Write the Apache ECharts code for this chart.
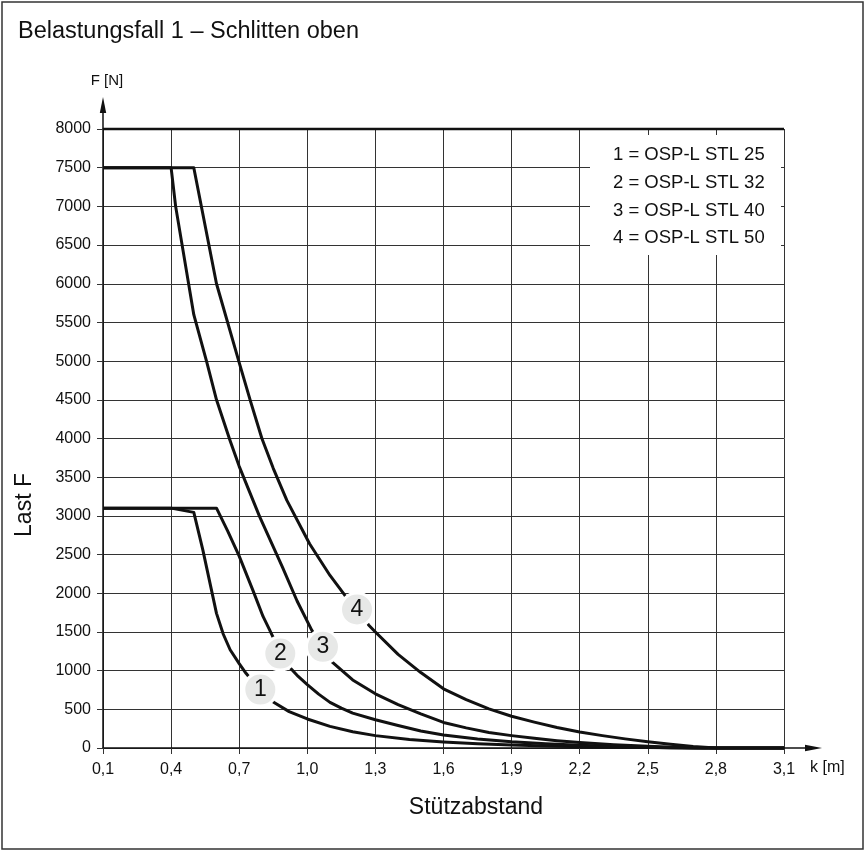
<!DOCTYPE html>
<html>
<head>
<meta charset="utf-8">
<script src="https://cdn.jsdelivr.net/npm/echarts@6/dist/echarts.min.js"></script>
<style>
html,body{margin:0;padding:0;background:#fff;}
#main{width:866px;height:855px;}
</style>
</head>
<body>
<div id="main"></div>
<script>
// ---------- data ----------
const xTickMin = 0.1, xTickMax = 3.1, xTickStep = 0.3;
const yTickMin = 0, yTickMax = 8000, yTickStep = 500;

const stl25 = [[0.1,3100],[0.4,3100],[0.5,3045],[0.54,2557],[0.6,1740],[0.63,1470],[0.66,1270],[0.7,1090],[0.73,965],[0.76,860],[0.793,755],[0.85,595],[0.92,470],[1.0,375],[1.1,280],[1.2,210],[1.3,160],[1.45,110],[1.6,78],[1.75,55],[1.9,38],[2.1,22],[2.3,12],[2.5,5],[2.7,0],[3.1,0]];
const stl32 = [[0.1,3100],[0.6,3100],[0.65,2800],[0.7,2480],[0.76,2040],[0.805,1700],[0.835,1520],[0.88,1240],[0.92,1050],[0.96,925],[1.0,820],[1.05,696],[1.1,590],[1.15,515],[1.2,450],[1.3,365],[1.4,290],[1.5,220],[1.6,168],[1.75,115],[1.9,80],[2.05,55],[2.2,35],[2.4,15],[2.6,4],[2.75,0],[3.1,0]];
const stl40 = [[0.1,7500],[0.4,7500],[0.42,7000],[0.5,5600],[0.556,5000],[0.6,4500],[0.66,3970],[0.7,3640],[0.79,2990],[0.89,2340],[0.955,1900],[1.02,1520],[1.07,1300],[1.11,1110],[1.2,880],[1.3,700],[1.4,560],[1.5,440],[1.6,330],[1.7,260],[1.8,200],[1.9,160],[2.0,125],[2.1,95],[2.2,70],[2.35,42],[2.5,22],[2.65,6],[2.75,0],[3.1,0]];
const stl50 = [[0.1,7500],[0.5,7500],[0.6,6000],[0.7,4980],[0.75,4480],[0.8,4000],[0.85,3615],[0.91,3200],[1.01,2640],[1.1,2230],[1.165,1975],[1.22,1790],[1.27,1590],[1.3,1500],[1.4,1210],[1.5,975],[1.6,765],[1.7,625],[1.8,505],[1.9,410],[2.0,335],[2.1,265],[2.2,207],[2.3,160],[2.4,118],[2.5,80],[2.6,48],[2.7,20],[2.8,0],[3.1,0]];

const curveLabels = ['1','2','3','4'];
const curveLabelPos = [[0.793,755],[0.881,1221],[1.069,1307],[1.219,1790]];
const legendTexts = ['1 = OSP-L STL 25','2 = OSP-L STL 32','3 = OSP-L STL 40','4 = OSP-L STL 50'];

const titleText = 'Belastungsfall 1 \u2013 Schlitten oben';
const yName = 'Last F';
const yUnit = 'F [N]';
const xName = 'St\u00fctzabstand';
const xUnit = 'k [m]';

// ---------- layout ----------
const W = 866, H = 855;
const G = {left:103, right:784, top:129, bottom:748};
const FONT = '"Liberation Sans", Arial, sans-serif';
const INK = '#111';

const chart = echarts.init(document.getElementById('main'), null, {renderer:'canvas', width:W, height:H});

function lineSeries(data){
  return {type:'line', data:data, showSymbol:false, symbol:'none', smooth:false,
    lineStyle:{color:INK, width:3, join:'round'}, z:3, silent:true, animation:false, clip:false};
}

const option = {
  animation:false,
  backgroundColor:'#fff',
  grid:{left:G.left, right:W-G.right, top:G.top, bottom:H-G.bottom, containLabel:false},
  xAxis:{
    type:'value', min:xTickMin, max:xTickMax, interval:xTickStep,
    axisLine:{show:true, onZero:false, lineStyle:{color:INK, width:1.5}},
    axisTick:{show:true, inside:false, length:6, lineStyle:{color:'#333', width:1}},
    axisLabel:{show:true, margin:14, fontSize:16, color:INK, fontFamily:FONT,
      formatter:function(v){return (Math.round(v*10)/10).toFixed(1).replace('.',',');}},
    splitLine:{show:true, lineStyle:{color:'#333', width:1}}
  },
  yAxis:{
    type:'value', min:yTickMin, max:yTickMax, interval:yTickStep,
    axisLine:{show:true, onZero:false, lineStyle:{color:INK, width:1.5}},
    axisTick:{show:true, inside:false, length:6, lineStyle:{color:'#333', width:1}},
    axisLabel:{show:true, margin:12, fontSize:16, color:INK, fontFamily:FONT,
      formatter:function(v){return String(Math.round(v));}},
    splitLine:{show:true, lineStyle:{color:'#333', width:1}}
  },
  series:[
    lineSeries(stl25), lineSeries(stl32), lineSeries(stl40), lineSeries(stl50),
    {
      type:'scatter', data:curveLabelPos, symbol:'circle', symbolSize:33, z:6, silent:true,
      itemStyle:{color:'#e7e8e7', borderColor:'#fff', borderWidth:3, opacity:1},
      label:{show:true, position:'inside', fontSize:23, color:INK, fontFamily:FONT,
        formatter:function(p){return curveLabels[p.dataIndex];}}
    }
  ],
  graphic:[]
};

// decorations: frame, title, axis arrows, legend box, names
const gfx = [];
gfx.push({type:'rect', shape:{x:2, y:2, width:W-5, height:847}, style:{fill:'none', stroke:'#333', lineWidth:1.5}, z:1, silent:true});
gfx.push({type:'text', x:18, y:32, style:{text:titleText, fontSize:23.5, fontFamily:FONT, fill:INK, textAlign:'left', textVerticalAlign:'middle'}, z:20, silent:true});
// top thick line at max
gfx.push({type:'line', shape:{x1:G.left, y1:G.top, x2:G.right, y2:G.top}, style:{stroke:INK, lineWidth:2.5}, z:20, silent:true});
// y axis extension + arrow
gfx.push({type:'line', shape:{x1:G.left, y1:G.top, x2:G.left, y2:G.top-20}, style:{stroke:INK, lineWidth:1.5}, z:20, silent:true});
gfx.push({type:'polygon', shape:{points:[[G.left,G.top-32],[G.left-3.2,G.top-16],[G.left+3.2,G.top-16]]}, style:{fill:INK}, z:20, silent:true});
gfx.push({type:'text', x:G.left+4, y:G.top-48, style:{text:yUnit, fontSize:15, fontFamily:FONT, fill:INK, textAlign:'center', textVerticalAlign:'middle'}, z:20, silent:true});
// x axis extension + arrow
gfx.push({type:'line', shape:{x1:G.right, y1:G.bottom, x2:G.right+26, y2:G.bottom}, style:{stroke:INK, lineWidth:1.5}, z:20, silent:true});
gfx.push({type:'polygon', shape:{points:[[G.right+38,G.bottom],[G.right+21,G.bottom-3.2],[G.right+21,G.bottom+3.2]]}, style:{fill:INK}, z:20, silent:true});
gfx.push({type:'text', x:G.right+26, y:G.bottom+20, style:{text:xUnit, fontSize:16, fontFamily:FONT, fill:INK, textAlign:'left', textVerticalAlign:'middle'}, z:20, silent:true});
// legend box
gfx.push({type:'rect', shape:{x:590, y:G.top+6, width:G.right-3-590, height:120}, style:{fill:'#fff', stroke:'none'}, z:30, silent:true});
legendTexts.forEach(function(t,i){
  gfx.push({type:'text', x:613, y:155+i*27.8, style:{text:t, fontSize:18.5, fontFamily:FONT, fill:INK, textAlign:'left', textVerticalAlign:'middle'}, z:31, silent:true});
});
// axis names
gfx.push({type:'text', x:476, y:808, style:{text:xName, fontSize:23, fontFamily:FONT, fill:INK, textAlign:'center', textVerticalAlign:'middle'}, z:20, silent:true});
gfx.push({type:'text', x:25, y:505, rotation:Math.PI/2, style:{text:yName, fontSize:23, fontFamily:FONT, fill:INK, textAlign:'center', textVerticalAlign:'middle'}, z:20, silent:true});

option.graphic = gfx;
chart.setOption(option);
</script>
</body>
</html>
